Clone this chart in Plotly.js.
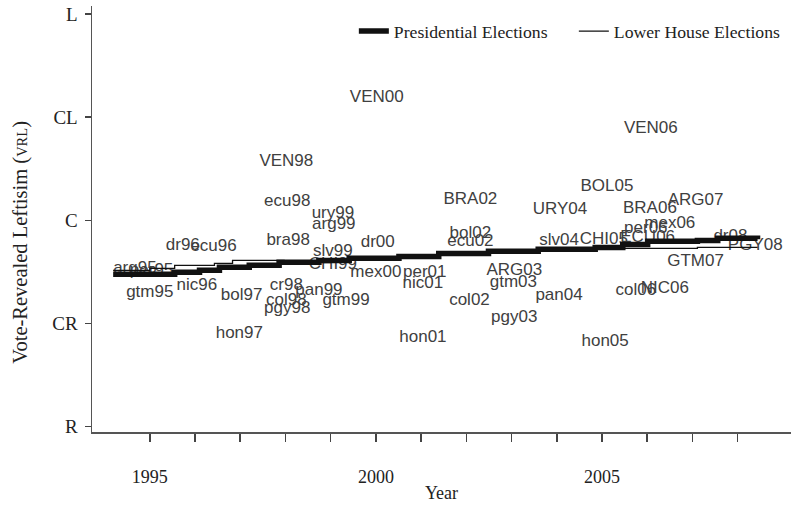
<!DOCTYPE html>
<html>
<head>
<meta charset="utf-8">
<script src="https://cdn.plot.ly/plotly-3.0.1.min.js"></script>
<style>html,body{margin:0;padding:0;background:#fff;}#chart{width:794px;height:508px;}</style>
</head>
<body>
<div id="chart"></div>
<script>
// Election labels (country+year), placed by reading the picture
var labelText = ["VEN00","VEN98","ecu98","ury99","arg99","BRA02","bra98","slv99","CHI99","dr00",
  "mex00","per01","nic01","cr98","pan99","col98","pgy98","gtm99","col02","hon01",
  "bol02","ecu02","ARG03","gtm03","pgy03","pan04","URY04","slv04","CHI05","ECU06",
  "hon05","BOL05","VEN06","BRA06","ARG07","per06","mex06","col06","NIC06","GTM07",
  "dr08","PGY08","dr96","ecu96","arg95","per95","gtm95","nic96","bol97","hon97"];
var labelYear = [2000.02,1998.02,1998.04,1999.05,1999.07,2002.09,1998.06,1999.05,1999.05,2000.04,
  2000.00,2001.08,2001.04,1998.02,1998.74,1998.02,1998.04,1999.34,2002.07,2001.04,
  2002.09,2002.09,2003.06,2003.04,2003.06,2004.05,2004.07,2004.05,2005.04,2006.01,
  2005.07,2005.11,2006.08,2006.06,2007.07,2005.97,2006.50,2005.75,2006.39,2007.07,
  2007.84,2008.39,1995.73,1996.41,1994.67,1995.04,1995.00,1996.04,1997.03,1996.98];
var labelVRL = [1.192,0.572,0.184,0.068,-0.039,0.203,-0.194,-0.300,-0.426,-0.213,
  -0.504,-0.504,-0.610,-0.630,-0.678,-0.775,-0.853,-0.775,-0.775,-1.134,
  -0.126,-0.203,-0.484,-0.601,-0.940,-0.727,0.107,-0.194,-0.184,-0.165,
  -1.172,0.329,0.891,0.116,0.194,-0.078,-0.029,-0.678,-0.659,-0.397,
  -0.155,-0.242,-0.242,-0.252,-0.465,-0.484,-0.698,-0.630,-0.727,-1.095];

// Presidential elections average (step line)
var presYear = [1994.19,1995.55,1996.10,1996.54,1997.20,1997.86,1998.74,1999.41,2000.51,2001.39,
  2002.49,2003.59,2004.85,2005.46,2006.01,2007.11,2007.56,2008.44];
var presVRL = [-0.523,-0.504,-0.484,-0.455,-0.436,-0.407,-0.388,-0.368,-0.349,-0.320,
  -0.300,-0.281,-0.262,-0.233,-0.203,-0.194,-0.174,-0.184];

// Lower house elections average (step line)
var lowerYear = [1994.19,1995.00,1995.55,1996.43,1996.83,1997.53,1997.97,1998.74,1999.41,2000.51,
  2001.39,2002.49,2003.59,2004.85,2004.91,2006.01,2007.11,2008.44];
var lowerVRL = [-0.484,-0.465,-0.436,-0.417,-0.388,-0.388,-0.397,-0.388,-0.368,-0.349,
  -0.320,-0.300,-0.281,-0.262,-0.271,-0.271,-0.262,-0.262];

// Axis ticks
var yTickVals = [-2,-1,0,1,2];
var yTickText = ["R","CR","C","CL","L"];
var xTickVals = [1995,1996,1997,1998,1999,2000,2001,2002,2003,2004,2005,2006,2007,2008];
var xTickText = ["1995","","","","","2000","","","","","2005","","",""];
var yTitle = 'Vote-Revealed Leftisim (<span style="font-size:14.5px">VRL</span>)';

var serif = "Liberation Serif, Times New Roman, serif";

var traces = [
  {x: labelYear, y: labelVRL, text: labelText, mode: "text", type: "scatter",
   textposition: "middle center", showlegend: false, hoverinfo: "text",
   textfont: {family: "Liberation Sans, Arial, sans-serif", size: 17, color: "#404040"}},
  {x: lowerYear, y: lowerVRL, mode: "lines", type: "scatter", name: "Lower House Elections",
   line: {color: "#111", width: 1.3, shape: "hv"}, legendrank: 2},
  {x: presYear, y: presVRL, mode: "lines", type: "scatter", name: "Presidential Elections",
   line: {color: "#111", width: 5.5, shape: "hv"}, legendrank: 1}
];

var layout = {
  width: 794, height: 508,
  margin: {l: 92, r: 0, t: 6, b: 76, pad: 0},
  paper_bgcolor: "#fff", plot_bgcolor: "#fff",
  showlegend: true,
  legend: {orientation: "h", x: 0.3746, xanchor: "left", y: 0.94, yanchor: "middle",
    font: {family: serif, size: 17.7, color: "#222"}, bgcolor: "rgba(0,0,0,0)",
    traceorder: "normal", itemwidth: 30, entrywidth: 175},
  xaxis: {
    range: [1993.722, 2009.18], tickvals: xTickVals, ticktext: xTickText,
    ticks: "outside", ticklen: 8, tickwidth: 1.5, tickcolor: "#444",
    showline: true, linecolor: "#555", linewidth: 1.5, showgrid: false, zeroline: false,
    tickfont: {family: serif, size: 18, color: "#222"}, ticklabelstandoff: 20,
    title: {text: "Year", font: {family: serif, size: 18, color: "#222"}, standoff: 0},
    automargin: false
  },
  yaxis: {
    range: [-2.051, 2.0775], tickvals: yTickVals, ticktext: yTickText,
    ticks: "outside", ticklen: 6, tickwidth: 1.5, tickcolor: "#444",
    showline: true, linecolor: "#555", linewidth: 1.5, showgrid: false, zeroline: false,
    tickfont: {family: serif, size: 19, color: "#222"}, ticklabelstandoff: 3,
    automargin: false
  },
  annotations: [{
    text: yTitle, textangle: -90, xref: "paper", yref: "paper",
    x: -0.1026, y: 0.445, xanchor: "center", yanchor: "middle", showarrow: false,
    font: {family: serif, size: 20.5, color: "#222"}
  }]
};

Plotly.newPlot("chart", traces, layout, {displayModeBar: false, staticPlot: true});
</script>
</body>
</html>
